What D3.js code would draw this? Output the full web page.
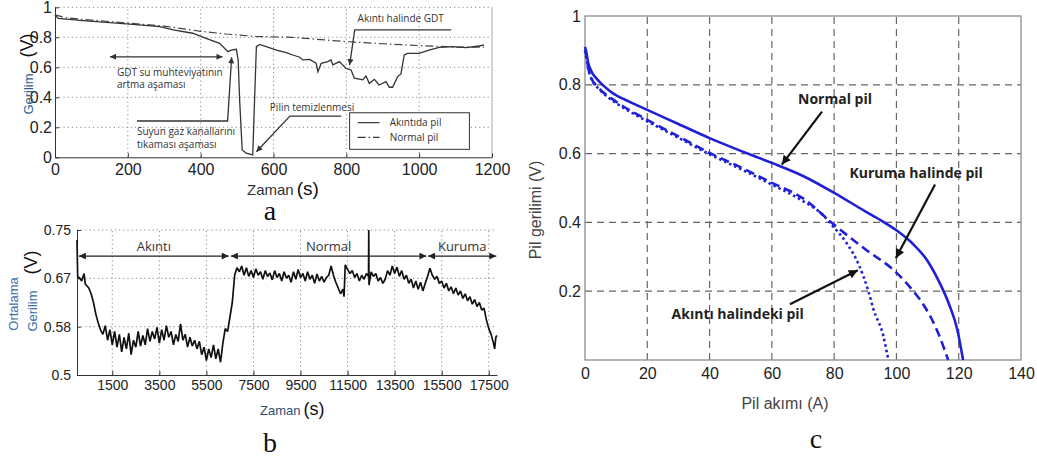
<!DOCTYPE html>
<meta charset="utf-8">
<style>
body { margin: 0; background: #fff; }
svg { display: block; font-family: "Liberation Sans", Arial, sans-serif; }
.axis path, .axis line { stroke: #333; }
.axis text { fill: #222; }
.grid-dot { stroke: #8a8a8a; stroke-width: 1; stroke-dasharray: 1.2,3; fill: none; }
.grid-dash { stroke: #666; stroke-width: 1.2; stroke-dasharray: 7,5; fill: none; }
.note { font-family: "Open Sans", sans-serif; font-size: 10px; fill: #333; }
.noteb { font-family: "Open Sans", sans-serif; font-size: 13px; fill: #333; }
.notec { font-family: "Open Sans", sans-serif; font-size: 14px; font-weight: bold; fill: #222; }
.plabel { font-family: "Liberation Serif", serif; font-size: 28px; fill: #111; }
</style>
<body>
<script src="https://d3js.org/d3.v7.min.js"></script>
<script>

// ---- panel a: voltage vs time, flooding ----
var aTicksX = [0, 200, 400, 600, 800, 1000, 1200];
var aTicksY = [0, 0.2, 0.4, 0.6, 0.8, 1];
var aFlood = [[0,0.949],[9,0.926],[77,0.911],[196,0.889],[288,0.871],[325,0.849],[378,0.827],
  [415,0.793],[452,0.76],[475,0.704],[484,0.715],[498,0.72],[503,0.649],[507,0.382],[514,0.049],
  [525,0.027],[543,0.016],[548,0.382],[553,0.738],[562,0.753],[580,0.738],[608,0.715],[635,0.698],
  [653,0.682],[672,0.667],[681,0.649],[699,0.653],[717,0.627],[722,0.571],[731,0.627],[749,0.638],
  [758,0.649],[763,0.616],[781,0.638],[799,0.593],[813,0.582],[822,0.527],[845,0.516],[854,0.542],
  [863,0.493],[877,0.52],[890,0.482],[909,0.504],[918,0.467],[927,0.467],[941,0.538],[950,0.556],
  [959,0.682],[968,0.693],[1000,0.693],[1027,0.715],[1055,0.733],[1091,0.738],[1128,0.731],
  [1165,0.742],[1178,0.749]];
var aNormal = [[0,0.95],[30,0.93],[100,0.915],[200,0.895],[300,0.875],[400,0.84],[470,0.822],
  [550,0.806],[650,0.8],[800,0.771],[900,0.757],[1000,0.745],[1100,0.735],[1178,0.735]];

// ---- panel b: mean voltage over a long run ----
var bTicksX = [1500, 3500, 5500, 7500, 9500, 11500, 13500, 15500, 17500];
var bTicksY = [0.5, 0.5833, 0.6667, 0.75];
var bTickLabelsY = ["0.5", "0.58", "0.67", "0.75"];
var bSeries = [[0,0.733],[30,0.668],[100,0.668],[200,0.662],[300,0.675],[350,0.657],[500,0.65],
  [600,0.64],[700,0.625],[800,0.605],[900,0.59],[1000,0.578],[1100,0.57],[1200,0.585],[1300,0.56],
  [1400,0.578],[1500,0.552],[1600,0.575],[1700,0.548],[1800,0.57],[1900,0.54],[2000,0.565],
  [2100,0.545],[2200,0.572],[2300,0.535],[2400,0.56],[2500,0.548],[2600,0.575],[2700,0.55],
  [2800,0.568],[2900,0.552],[3000,0.58],[3100,0.558],[3200,0.575],[3300,0.562],[3400,0.582],
  [3500,0.555],[3600,0.578],[3700,0.56],[3800,0.585],[3900,0.565],[4000,0.575],[4100,0.552],
  [4200,0.57],[4300,0.558],[4400,0.588],[4500,0.56],[4600,0.57],[4700,0.548],[4800,0.565],
  [4900,0.55],[5000,0.56],[5100,0.545],[5200,0.558],[5300,0.535],[5400,0.548],[5500,0.525],
  [5600,0.545],[5700,0.53],[5800,0.552],[5900,0.528],[6000,0.545],[6100,0.522],[6200,0.555],
  [6300,0.58],[6400,0.575],[6500,0.6],[6600,0.625],[6700,0.672],[6800,0.685],[6900,0.678],
  [7000,0.688],[7100,0.672],[7200,0.685],[7300,0.67],[7400,0.68],[7500,0.668],[7600,0.683],
  [7700,0.672],[7800,0.678],[7900,0.665],[8000,0.68],[8100,0.67],[8200,0.676],[8300,0.664],
  [8400,0.68],[8500,0.668],[8600,0.675],[8700,0.662],[8800,0.678],[8900,0.667],[9000,0.672],
  [9100,0.66],[9200,0.678],[9300,0.665],[9400,0.682],[9500,0.668],[9600,0.675],[9700,0.662],
  [9800,0.678],[9900,0.665],[10000,0.672],[10100,0.658],[10200,0.674],[10300,0.662],[10400,0.67],
  [10500,0.66],[10600,0.668],[10700,0.672],[10800,0.688],[10900,0.672],[11000,0.66],[11100,0.65],
  [11200,0.64],[11300,0.648],[11350,0.635],[11400,0.69],[11500,0.682],[11600,0.675],[11700,0.68],
  [11800,0.668],[11900,0.675],[12000,0.662],[12100,0.672],[12200,0.665],[12300,0.675],[12390,0.67],
  [12400,0.75],[12410,0.655],[12500,0.678],[12600,0.67],[12700,0.675],[12800,0.662],[12900,0.668],
  [13000,0.658],[13100,0.665],[13200,0.68],[13300,0.672],[13400,0.688],[13500,0.675],[13600,0.686],
  [13700,0.67],[13800,0.68],[13900,0.665],[14000,0.672],[14100,0.658],[14200,0.665],[14300,0.65],
  [14400,0.662],[14500,0.648],[14600,0.66],[14700,0.645],[14800,0.658],[14900,0.67],[15000,0.684],
  [15100,0.672],[15200,0.665],[15300,0.67],[15400,0.658],[15500,0.662],[15600,0.65],[15700,0.658],
  [15800,0.645],[15900,0.652],[16000,0.64],[16100,0.65],[16200,0.638],[16300,0.645],[16400,0.632],
  [16500,0.64],[16600,0.628],[16700,0.635],[16800,0.622],[16900,0.63],[17000,0.618],[17100,0.625],
  [17200,0.612],[17300,0.615],[17400,0.595],[17500,0.58],[17600,0.57],[17700,0.555],[17750,0.545],
  [17800,0.565],[17850,0.568]];
var bPhases = [
  {name: "Akıntı", from: 80, to: 6450},
  {name: "Normal", from: 6540, to: 14850},
  {name: "Kuruma", from: 14920, to: 17820}
];

// ---- panel c: polarisation curves ----
var cTicksX = [0, 20, 40, 60, 80, 100, 120, 140];
var cTicksY = [0.2, 0.4, 0.6, 0.8, 1];
var cNormal = [[0,0.91],[0.3,0.9],[1,0.865],[2,0.84],[4,0.815],[6,0.797],[9,0.775],[14,0.752],
  [20,0.727],[30,0.686],[40,0.645],[50,0.608],[60,0.573],[70,0.535],[80,0.486],[90,0.432],
  [95,0.406],[100,0.377],[105,0.34],[110,0.288],[114,0.222],[117,0.16],[119.5,0.09],[121.4,0]];
var cDrying = [[0,0.9],[0.3,0.89],[1,0.85],[2,0.82],[4,0.795],[6,0.777],[9,0.757],[14,0.728],
  [20,0.698],[30,0.65],[40,0.602],[50,0.56],[60,0.515],[70,0.47],[80,0.393],[90,0.322],
  [100,0.254],[105,0.205],[108,0.17],[111,0.125],[114,0.065],[116.6,0]];
var cFlood = [[0,0.9],[0.3,0.885],[1,0.848],[2,0.818],[4,0.792],[6,0.774],[9,0.753],[14,0.724],
  [20,0.694],[30,0.646],[40,0.598],[50,0.555],[60,0.51],[70,0.462],[76,0.425],[80,0.385],
  [84,0.34],[88,0.275],[91,0.2],[92.6,0.148],[95.8,0.07],[97.4,0]];

var svg = d3.select("body").append("svg")
    .attr("width", 1037)
    .attr("height", 459);

var plain = function(d) { return String(d); };

var defs = svg.append("defs");
function marker(id, w, h, color) {
  defs.append("marker")
      .attr("id", id)
      .attr("viewBox", "0 0 10 10")
      .attr("refX", 10).attr("refY", 5)
      .attr("markerWidth", w).attr("markerHeight", h)
      .attr("markerUnits", "userSpaceOnUse")
      .attr("orient", "auto-start-reverse")
    .append("path")
      .attr("d", "M0,0L10,5L0,10z")
      .attr("fill", color);
}
marker("headA", 8, 6, "#333");
marker("headB", 10, 7, "#222");
marker("headC", 13, 9, "#111");

// ================= panel a =================
var xa = d3.scaleLinear().domain([0, 1200]).range([55, 492]);
var ya = d3.scaleLinear().domain([0, 1]).range([157.3, 7.3]);
var ga = svg.append("g");

aTicksX.slice(1, -1).forEach(function(t) {
  ga.append("line").attr("class", "grid-dot")
      .attr("x1", xa(t)).attr("x2", xa(t)).attr("y1", ya(0)).attr("y2", ya(1));
});
aTicksY.slice(1).forEach(function(v) {
  ga.append("line").attr("class", "grid-dot")
      .attr("x1", xa(0)).attr("x2", xa(1200)).attr("y1", ya(v)).attr("y2", ya(v));
});
ga.append("line")
    .attr("x1", xa(1200)).attr("x2", xa(1200)).attr("y1", ya(0)).attr("y2", ya(1))
    .attr("stroke", "#aaa");

ga.append("g").attr("class", "axis")
    .attr("transform", "translate(0," + ya(0) + ")")
    .style("font-size", "16px")
    .call(d3.axisBottom(xa).tickValues(aTicksX).tickFormat(plain)
      .tickSize(-4).tickSizeOuter(0).tickPadding(6));
ga.append("g").attr("class", "axis")
    .attr("transform", "translate(" + xa(0) + ",0)")
    .style("font-size", "16px")
    .call(d3.axisLeft(ya).tickValues(aTicksY).tickFormat(plain)
      .tickSize(-4).tickSizeOuter(0).tickPadding(3));
ga.selectAll(".axis text").attr("font-family", "Liberation Sans");

var lineA = d3.line().x(function(d) { return xa(d[0]); }).y(function(d) { return ya(d[1]); });
ga.append("path").datum(aNormal).attr("d", lineA)
    .attr("fill", "none").attr("stroke", "#444").attr("stroke-width", 1.2)
    .attr("stroke-dasharray", "8,3,1.5,3");
ga.append("path").datum(aFlood).attr("d", lineA)
    .attr("fill", "none").attr("stroke", "#333").attr("stroke-width", 1.3);

// annotations
var aNotes = [
  {pts: [[151, 0.67], [460, 0.67]], both: true},
  {pts: [[225, 0.242], [474, 0.242], [485, 0.667]]},
  {pts: [[786, 0.275], [645, 0.275], [553, 0.037]]},
  {pts: [[1088, 0.849], [823, 0.849], [809, 0.615]]}
];
aNotes.forEach(function(n) {
  ga.append("path").datum(n.pts).attr("d", lineA)
      .attr("fill", "none").attr("stroke", "#333").attr("stroke-width", 1.3)
      .attr("marker-end", "url(#headA)")
      .attr("marker-start", n.both ? "url(#headA)" : null);
});
var aTexts = [
  [170, 0.542, "GDT su muhteviyatının"],
  [170, 0.462, "artma aşaması"],
  [225, 0.149, "Suyun gaz kanallarını"],
  [225, 0.062, "tıkaması aşaması"],
  [590, 0.309, "Pilin temizlenmesi"],
  [831, 0.902, "Akıntı halinde GDT"]
];
aTexts.forEach(function(d) {
  ga.append("text").attr("class", "note").attr("x", xa(d[0])).attr("y", ya(d[1])).text(d[2]);
});

// legend
ga.append("rect")
    .attr("x", xa(809)).attr("y", ya(0.297))
    .attr("width", xa(1138) - xa(809)).attr("height", ya(0.053) - ya(0.297))
    .attr("fill", "#fff").attr("stroke", "#333").attr("stroke-width", 1);
var aLegend = [
  {v: 0.231, label: "Akıntıda pil", dash: null},
  {v: 0.133, label: "Normal pil", dash: "8,3,1.5,3"}
];
aLegend.forEach(function(l) {
  ga.append("line").attr("x1", xa(831)).attr("x2", xa(891)).attr("y1", ya(l.v)).attr("y2", ya(l.v))
      .attr("stroke", "#333").attr("stroke-width", 1.2).attr("stroke-dasharray", l.dash);
  ga.append("text").attr("class", "note").attr("x", xa(919)).attr("y", ya(l.v) + 3.5).text(l.label);
});

ga.append("text")
    .attr("transform", "translate(33," + 74 + ") rotate(-90)")
    .attr("text-anchor", "middle")
    .call(function(t) {
      t.append("tspan").attr("fill", "#2f5f8f").style("font-size", "13px").text("Gerilim");
      t.append("tspan").attr("dx", 16).attr("fill", "#111").style("font-size", "18px").text("(V)");
    });
ga.append("text")
    .attr("x", 247).attr("y", 195)
    .call(function(t) {
      t.append("tspan").attr("fill", "#333").style("font-size", "15px").text("Zaman");
      t.append("tspan").attr("dx", 3).attr("fill", "#111").style("font-size", "19px").text("(s)");
    });
svg.append("text").attr("class", "plabel").attr("x", 270).attr("y", 220)
    .attr("text-anchor", "middle").text("a");

// ================= panel b =================
var xb = d3.scaleLinear().domain([0, 17850]).range([77, 497]);
var yb = d3.scaleLinear().domain([0.5, 0.75]).range([375, 230]);
var gb = svg.append("g");

bTicksX.forEach(function(t) {
  gb.append("line").attr("class", "grid-dot")
      .attr("x1", xb(t)).attr("x2", xb(t)).attr("y1", yb(0.5)).attr("y2", yb(0.75));
});
bTicksY.slice(1).forEach(function(v) {
  gb.append("line").attr("class", "grid-dot")
      .attr("x1", xb(0)).attr("x2", xb(17850)).attr("y1", yb(v)).attr("y2", yb(v));
});

gb.append("g").attr("class", "axis")
    .attr("transform", "translate(0," + yb(0.5) + ")")
    .style("font-size", "14px")
    .call(d3.axisBottom(xb).tickValues(bTicksX).tickFormat(plain)
      .tickSize(-4).tickSizeOuter(0).tickPadding(5));
gb.append("g").attr("class", "axis")
    .attr("transform", "translate(" + xb(0) + ",0)")
    .style("font-size", "14px")
    .call(d3.axisLeft(yb).tickValues(bTicksY).tickFormat(function(d, i) { return bTickLabelsY[i]; })
      .tickSize(-4).tickSizeOuter(0).tickPadding(6));
gb.selectAll(".axis text").attr("font-family", "Liberation Sans");

var lineB = d3.line().x(function(d) { return xb(d[0]); }).y(function(d) { return yb(d[1]); });
gb.append("path").datum(bSeries).attr("d", lineB)
    .attr("fill", "none").attr("stroke", "#111").attr("stroke-width", 1.7)
    .attr("stroke-linejoin", "bevel");

bPhases.forEach(function(p) {
  gb.append("line")
      .attr("x1", xb(p.from)).attr("x2", xb(p.to)).attr("y1", yb(0.705)).attr("y2", yb(0.705))
      .attr("stroke", "#222").attr("stroke-width", 1.2)
      .attr("marker-start", "url(#headB)").attr("marker-end", "url(#headB)");
  gb.append("text").attr("class", "noteb")
      .attr("x", xb((p.from + p.to) / 2)).attr("y", yb(0.7138))
      .attr("text-anchor", "middle").text(p.name);
});

gb.append("text")
    .attr("transform", "translate(18,304) rotate(-90)")
    .attr("text-anchor", "middle").attr("fill", "#3a6ea8").style("font-size", "13px")
    .text("Ortalama");
gb.append("text")
    .attr("transform", "translate(37,291) rotate(-90)")
    .attr("text-anchor", "middle")
    .call(function(t) {
      t.append("tspan").attr("fill", "#3a6ea8").style("font-size", "13px").text("Gerilim");
      t.append("tspan").attr("dx", 16).attr("fill", "#111").style("font-size", "18px").text("(V)");
    });
gb.append("text")
    .attr("x", 260).attr("y", 415)
    .call(function(t) {
      t.append("tspan").attr("fill", "#2d4f75").style("font-size", "13px").text("Zaman");
      t.append("tspan").attr("dx", 3).attr("fill", "#111").style("font-size", "18px").text("(s)");
    });
svg.append("text").attr("class", "plabel").attr("x", 270).attr("y", 452)
    .attr("text-anchor", "middle").text("b");

// ================= panel c =================
var xc = d3.scaleLinear().domain([0, 140]).range([585, 1021]);
var yc = d3.scaleLinear().domain([0, 1]).range([360, 16]);
var gc = svg.append("g");

cTicksX.slice(1, -1).forEach(function(t) {
  gc.append("line").attr("class", "grid-dash")
      .attr("x1", xc(t)).attr("x2", xc(t)).attr("y1", yc(0)).attr("y2", yc(1));
});
cTicksY.slice(0, -1).forEach(function(v) {
  gc.append("line").attr("class", "grid-dash")
      .attr("x1", xc(0)).attr("x2", xc(140)).attr("y1", yc(v)).attr("y2", yc(v));
});
gc.append("rect")
    .attr("x", xc(0)).attr("y", yc(1))
    .attr("width", xc(140) - xc(0)).attr("height", yc(0) - yc(1))
    .attr("fill", "none").attr("stroke", "#8c8c8c").attr("stroke-width", 1.3);

gc.append("g").attr("class", "axis")
    .attr("transform", "translate(0," + yc(0) + ")")
    .style("font-size", "16px")
    .call(d3.axisBottom(xc).tickValues(cTicksX).tickSize(0).tickPadding(8));
gc.append("g").attr("class", "axis")
    .attr("transform", "translate(" + xc(0) + ",0)")
    .style("font-size", "16px")
    .call(d3.axisLeft(yc).tickValues(cTicksY).tickFormat(plain)
      .tickSize(0).tickPadding(4));
gc.selectAll(".axis .domain").remove();
gc.selectAll(".axis text").attr("fill", "#555").attr("font-family", "Liberation Sans");

var lineC = d3.line().curve(d3.curveMonotoneX)
    .x(function(d) { return xc(d[0]); }).y(function(d) { return yc(d[1]); });
var blue = "#1f1fd8";
gc.append("path").datum(cFlood).attr("d", lineC)
    .attr("fill", "none").attr("stroke", blue).attr("stroke-width", 2.6)
    .attr("stroke-dasharray", "2.5,3");
gc.append("path").datum(cDrying).attr("d", lineC)
    .attr("fill", "none").attr("stroke", blue).attr("stroke-width", 2.6)
    .attr("stroke-dasharray", "9,5");
gc.append("path").datum(cNormal).attr("d", lineC)
    .attr("fill", "none").attr("stroke", blue).attr("stroke-width", 2.6);

var cNotes = [
  {text: "Normal pil", at: [68.4, 0.745], from: [76.1, 0.722], to: [63.2, 0.568]},
  {text: "Kuruma halinde pil", at: [84.9, 0.528], from: [112.4, 0.51], to: [99.8, 0.296]},
  {text: "Akıntı halindeki pil", at: [27.8, 0.119], from: [65.8, 0.162], to: [87.6, 0.261]}
];
cNotes.forEach(function(n) {
  gc.append("text").attr("class", "notec").attr("x", xc(n.at[0])).attr("y", yc(n.at[1])).text(n.text);
  gc.append("line")
      .attr("x1", xc(n.from[0])).attr("y1", yc(n.from[1]))
      .attr("x2", xc(n.to[0])).attr("y2", yc(n.to[1]))
      .attr("stroke", "#111").attr("stroke-width", 2.2)
      .attr("marker-end", "url(#headC)");
});

gc.append("text")
    .attr("transform", "translate(541,210) rotate(-90)")
    .attr("text-anchor", "middle").attr("fill", "#444").style("font-size", "16px")
    .text("Pil gerilimi (V)");
gc.append("text")
    .attr("x", 785).attr("y", 409)
    .attr("text-anchor", "middle").attr("fill", "#444").style("font-size", "16px")
    .text("Pil akımı (A)");
svg.append("text").attr("class", "plabel").attr("x", 816).attr("y", 448)
    .attr("text-anchor", "middle").text("c");

</script>
